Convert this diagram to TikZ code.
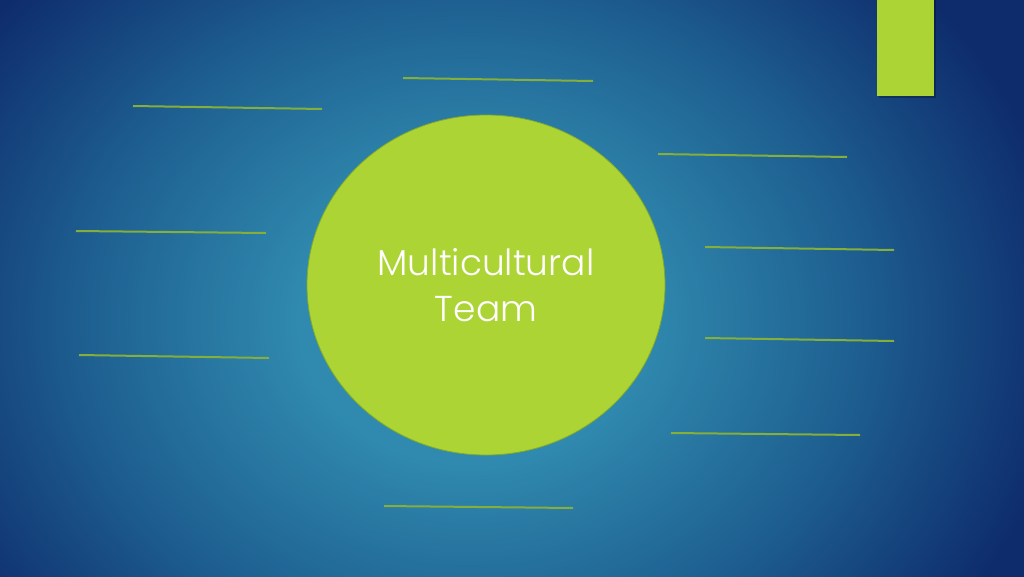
\documentclass[tikz,border=0pt]{standalone}
\usepackage{fontspec}
\setmainfont{Poppins}[UprightFont={* Light}]
\usetikzlibrary{shapes.geometric}
\definecolor{cin}{RGB}{48,138,175}
\definecolor{cmid}{RGB}{30,96,145}
\definecolor{cout}{RGB}{14,44,108}
\definecolor{lime}{RGB}{173,212,53}
\definecolor{limedark}{RGB}{130,170,40}
\definecolor{lineg}{RGB}{134,174,58}
\pgfdeclareradialshading{bgshade}{\pgfpoint{0bp}{0bp}}{color(0bp)=(cin); color(6bp)=(cin); color(13.7bp)=(cmid); color(21.4bp)=(cout); color(50bp)=(cout)}
\tikzset{
  hub/.style={ellipse, fill=lime, draw=limedark, line width=0.8pt, minimum width=358pt, minimum height=340pt, inner sep=0pt, text=white, align=center, font=\fontsize{36}{46}\selectfont},
  blank/.style={draw=lineg, line width=2pt},
  tab/.style={fill=lime}
}
\begin{document}
\begin{tikzpicture}[x=1pt,y=-1pt]
\useasboundingbox (0,0) rectangle (1024,576);
\begin{scope}
\clip (0,0) rectangle (1024,576);
\shade[shading=bgshade] (470,320) ellipse (700 and 583);
\end{scope}
\fill[black,opacity=0.25] (879,0) rectangle (936,98);
\node[tab, minimum width=57pt, minimum height=96pt, inner sep=0pt, anchor=north west] (tab) at (877,0) {};
\node[hub] (hub) at (486,285) {Multicultural\\Team};
\coordinate (a1) at (403,78);  \coordinate (b1) at (593,81);
\coordinate (a2) at (133,106); \coordinate (b2) at (322,109);
\coordinate (a3) at (658,154); \coordinate (b3) at (847,157);
\coordinate (a4) at (76,231);  \coordinate (b4) at (266,233);
\coordinate (a5) at (705,247); \coordinate (b5) at (894,250);
\coordinate (a6) at (79,355);  \coordinate (b6) at (269,358);
\coordinate (a7) at (705,338); \coordinate (b7) at (894,341);
\coordinate (a8) at (671,433); \coordinate (b8) at (860,435);
\coordinate (a9) at (384,506); \coordinate (b9) at (573,508);
\foreach \i in {1,...,9} \draw[blank] (a\i) -- (b\i);
\end{tikzpicture}
\end{document}
